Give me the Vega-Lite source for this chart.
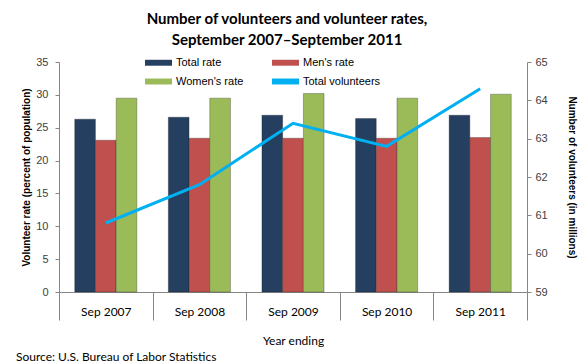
{
  "$schema": "https://vega.github.io/schema/vega-lite/v6.json",
  "width": 468,
  "height": 230,
  "autosize": {"type": "none"},
  "padding": {"left": 59, "top": 62, "right": 53, "bottom": 71},
  "background": "white",
  "title": {
    "text": ["Number of volunteers and volunteer rates,", "September 2007\u2013September 2011"],
    "font": "Lato",
    "fontSize": 15,
    "fontWeight": "bold",
    "color": "#000000",
    "anchor": "middle",
    "frame": "group",
    "lineHeight": 21,
    "offset": 1,
    "dx": -6
  },
  "config": {
    "view": {"stroke": null},
    "axis": {"domainColor": "#868686", "tickColor": "#868686", "grid": false}
  },
  "datasets": {
    "rates": [
      {"year": "Sep 2007", "series": "Total rate", "rate": 26.3},
      {"year": "Sep 2007", "series": "Men's rate", "rate": 23.1},
      {"year": "Sep 2007", "series": "Women's rate", "rate": 29.5},
      {"year": "Sep 2008", "series": "Total rate", "rate": 26.6},
      {"year": "Sep 2008", "series": "Men's rate", "rate": 23.4},
      {"year": "Sep 2008", "series": "Women's rate", "rate": 29.5},
      {"year": "Sep 2009", "series": "Total rate", "rate": 26.9},
      {"year": "Sep 2009", "series": "Men's rate", "rate": 23.4},
      {"year": "Sep 2009", "series": "Women's rate", "rate": 30.2},
      {"year": "Sep 2010", "series": "Total rate", "rate": 26.4},
      {"year": "Sep 2010", "series": "Men's rate", "rate": 23.4},
      {"year": "Sep 2010", "series": "Women's rate", "rate": 29.5},
      {"year": "Sep 2011", "series": "Total rate", "rate": 26.9},
      {"year": "Sep 2011", "series": "Men's rate", "rate": 23.5},
      {"year": "Sep 2011", "series": "Women's rate", "rate": 30.1}
    ],
    "volunteers": [
      {"year": "Sep 2007", "millions": 60.8},
      {"year": "Sep 2008", "millions": 61.8},
      {"year": "Sep 2009", "millions": 63.4},
      {"year": "Sep 2010", "millions": 62.8},
      {"year": "Sep 2011", "millions": 64.3}
    ]
  },
  "layer": [
    {
      "data": {"name": "rates"},
      "mark": {"type": "bar", "stroke": "#1a1a1a", "strokeWidth": 0.6, "strokeOpacity": 0.5},
      "encoding": {
        "x": {
          "field": "year",
          "type": "nominal",
          "sort": null,
          "scale": {"paddingInner": 0, "paddingOuter": 0},
          "axis": {
            "title": "Year ending",
            "titleFont": "Lato",
            "titleFontSize": 12,
            "titleFontWeight": "normal",
            "titleColor": "#000000",
            "titlePadding": 15,
            "labelFont": "Lato",
            "labelFontSize": 12,
            "labelColor": "#000000",
            "labelAngle": 0,
            "tickBand": "extent",
            "tickSize": 28,
            "labelPadding": -14
          }
        },
        "xOffset": {
          "field": "series",
          "type": "nominal",
          "sort": ["Total rate", "Men's rate", "Women's rate"],
          "scale": {"paddingInner": 0, "paddingOuter": 0.76}
        },
        "y": {
          "field": "rate",
          "type": "quantitative",
          "scale": {"domain": [0, 35], "nice": false},
          "axis": {
            "title": "Volunteer rate (percent of population)",
            "titleFont": "Liberation Sans",
            "titleFontSize": 10,
            "titleFontWeight": "bold",
            "titleColor": "#000000",
            "titlePadding": 4,
            "values": [0, 5, 10, 15, 20, 25, 30, 35],
            "labelFont": "Liberation Sans",
            "labelFontSize": 11,
            "labelColor": "#404040",
            "tickSize": 4,
            "labelPadding": 7
          }
        },
        "color": {
          "field": "series",
          "type": "nominal",
          "scale": {
            "domain": ["Total rate", "Men's rate", "Women's rate", "Total volunteers"],
            "range": ["#243F60", "#C0504D", "#9BBB59", "#00B0F0"]
          },
          "legend": {
            "title": null,
            "orient": "none",
            "legendX": 86,
            "legendY": -13,
            "direction": "horizontal",
            "columns": 2,
            "columnPadding": 28,
            "rowPadding": -5,
            "gridAlign": "each",
            "labelFont": "Liberation Sans",
            "labelFontSize": 11,
            "labelColor": "#000000",
            "labelOffset": 4,
            "symbolType": "M-1,-0.22H1V0.22H-1Z",
            "symbolSize": 729,
            "symbolStrokeWidth": 0,
            "symbolOpacity": 1
          }
        }
      }
    },
    {
      "data": {"name": "volunteers"},
      "mark": {"type": "line", "strokeWidth": 3},
      "encoding": {
        "x": {"field": "year", "type": "nominal", "sort": null},
        "y": {
          "field": "millions",
          "type": "quantitative",
          "scale": {"domain": [59, 65], "nice": false},
          "axis": {
            "orient": "right",
            "title": "Number of volunteers (in millions)",
            "titleFont": "Liberation Sans",
            "titleFontSize": 10,
            "titleFontWeight": "bold",
            "titleColor": "#000000",
            "titlePadding": 19,
            "values": [59, 60, 61, 62, 63, 64, 65],
            "labelFont": "Liberation Sans",
            "labelFontSize": 11,
            "labelColor": "#404040",
            "tickSize": 4,
            "labelPadding": 4
          }
        },
        "color": {"datum": "Total volunteers"}
      }
    },
    {
      "data": {"values": [{"note": "Source: U.S. Bureau of Labor Statistics"}]},
      "mark": {"type": "text", "font": "Lato", "fontSize": 12, "align": "left", "baseline": "alphabetic", "color": "#000000"},
      "encoding": {
        "text": {"field": "note"},
        "x": {"value": -43},
        "y": {"value": 299}
      }
    }
  ],
  "resolve": {"scale": {"y": "independent"}}
}
